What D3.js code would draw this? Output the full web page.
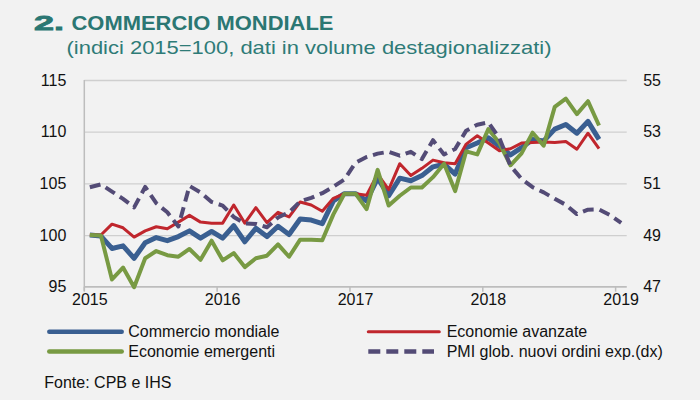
<!DOCTYPE html>
<html>
<head>
<meta charset="utf-8">
<script src="https://cdn.jsdelivr.net/npm/d3@7"></script>
<style>
  html, body { margin: 0; padding: 0; background: #f2f2f2; }
  svg { display: block; font-family: "Liberation Sans", Arial, sans-serif; }
</style>
</head>
<body>
<svg id="chart" width="700" height="400"></svg>
<script>
// ---- DATA ----
const months = [
  "2015-01","2015-02","2015-03","2015-04","2015-05","2015-06","2015-07","2015-08","2015-09","2015-10","2015-11","2015-12",
  "2016-01","2016-02","2016-03","2016-04","2016-05","2016-06","2016-07","2016-08","2016-09","2016-10","2016-11","2016-12",
  "2017-01","2017-02","2017-03","2017-04","2017-05","2017-06","2017-07","2017-08","2017-09","2017-10","2017-11","2017-12",
  "2018-01","2018-02","2018-03","2018-04","2018-05","2018-06","2018-07","2018-08","2018-09","2018-10","2018-11","2018-12",
  "2019-01"
];
const yearTicks = ["2015-01","2016-01","2017-01","2018-01","2019-01"];
const leftTicks = [95, 100, 105, 110, 115];
const rightTicks = [47, 49, 51, 53, 55];

const commercioMondiale = [
  100, 99.9, 98.7, 98.95, 97.75, 99.25, 99.75, 99.45, 99.85, 100.4, 99.7, 100.35,
  99.7, 100.9, 99.35, 100.65, 99.85, 100.85, 100.05, 101.55, 101.45, 101.1, 103.3, 104.0,
  104.0, 103.3, 105.5, 103.8, 105.5, 105.25, 105.75, 106.6, 106.85, 105.9, 108.45, 108.9,
  109.4, 108.6, 107.75, 108.45, 109.25, 109.1, 110.25, 110.7, 109.85, 111.0, 109.25
];
const economieAvanzate = [
  100, 100, 101.05, 100.7, 99.8, 100.4, 100.8, 100.6, 101.25, 101.9, 101.25, 101.15,
  101.15, 102.9, 101.15, 102.65, 101.2, 102.2, 101.75, 103.2, 102.9, 102.3, 103.55, 104.0,
  104.0, 103.85, 105.9, 104.4, 106.9, 105.75, 106.45, 107.25, 107.0, 106.9, 108.8, 109.6,
  108.9, 108.15, 108.35, 108.9, 108.95, 109.0, 108.95, 109.05, 108.3, 109.85, 108.35
];
const economieEmergenti = [
  100, 99.95, 95.7, 96.85, 94.95, 97.75, 98.45, 98.05, 97.9, 98.65, 97.6, 99.45,
  97.55, 98.25, 96.9, 97.75, 98.0, 99.1, 97.9, 99.55, 99.55, 99.5, 102.0, 104.0,
  104.0, 102.5, 106.3, 102.85, 103.8, 104.6, 104.6, 105.6, 106.9, 104.25, 108.1, 107.8,
  110.25, 108.9, 106.75, 107.9, 109.9, 108.65, 112.4, 113.2, 111.7, 112.95, 110.6
];
const pmiNuoviOrdini = [
  50.85, 50.96, 50.68, 50.4, 50.07, 50.86, 50.23, 49.88, 49.33, 50.9, 50.65, 50.28,
  50.14, 49.7, 49.45, 49.43, 49.3, 49.68, 49.88, 50.3, 50.44, 50.62, 50.87, 51.15,
  51.8, 52.02, 52.15, 52.22, 52.07, 52.22, 51.94, 52.67, 52.12, 52.33, 53.04, 53.27,
  53.36, 52.75, 51.68, 51.17, 50.85, 50.65, 50.4, 50.17, 49.81, 49.98, 49.99, 49.77, 49.47
];

const seriesNames = ["Commercio mondiale", "Economie avanzate", "Economie emergenti", "PMI glob. nuovi ordini exp.(dx)"];
const seriesColors = ["#3a5f91", "#c0262d", "#789a43", "#534b76"];

// ---- LAYOUT ----
const svg = d3.select("#chart");
const plotLeft = 84.3, plotRight = 626.7, plotTop = 80, plotBottom = 286.7;

const x = d3.scaleBand().domain(months).range([plotLeft, plotRight]).padding(0);
const yL = d3.scaleLinear().domain([95, 115]).range([plotBottom, plotTop]);
const yR = d3.scaleLinear().domain([47, 55]).range([plotBottom, plotTop]);
const cx = m => x(m) + x.bandwidth() / 2;

svg.append("rect").attr("width", 700).attr("height", 400).attr("fill", "#f2f2f2");

// Title
svg.append("text").attr("x", 34).attr("y", 30)
  .attr("font-size", 21).attr("font-weight", 900).attr("fill", "#2b7773")
  .attr("stroke", "#2b7773").attr("stroke-width", 0.8)
  .attr("textLength", 30).attr("lengthAdjust", "spacingAndGlyphs").text("2.");
svg.append("text").attr("x", 71.5).attr("y", 30)
  .attr("font-size", 21).attr("font-weight", "bold").attr("fill", "#2b7773")
  .attr("textLength", 262).attr("lengthAdjust", "spacingAndGlyphs").text("COMMERCIO MONDIALE");
svg.append("text").attr("x", 66.5).attr("y", 54)
  .attr("font-size", 19).attr("fill", "#2e7b77")
  .attr("textLength", 485).attr("lengthAdjust", "spacingAndGlyphs")
  .text("(indici 2015=100, dati in volume destagionalizzati)");

// Gridlines
const grid = svg.append("g").attr("transform", `translate(${plotLeft},0)`)
  .call(d3.axisLeft(yL).tickValues(leftTicks).tickSize(-(plotRight - plotLeft)).tickFormat(""));
grid.select(".domain").remove();
grid.selectAll(".tick line").attr("stroke", "#cfcfcf").attr("stroke-width", 1.3);

// Left axis labels
const ax = svg.append("g").attr("transform", `translate(${plotLeft},0)`)
  .call(d3.axisLeft(yL).tickValues(leftTicks).tickSize(0).tickPadding(18));
ax.select(".domain").remove();
ax.selectAll("text").attr("font-size", 16).attr("fill", "#111").attr("font-family", "Liberation Sans, Arial, sans-serif");

// Right axis labels
const ar = svg.append("g").attr("transform", `translate(${plotRight},0)`)
  .call(d3.axisRight(yR).tickValues(rightTicks).tickSize(0).tickPadding(16.5));
ar.select(".domain").remove();
ar.selectAll("text").attr("font-size", 16).attr("fill", "#111").attr("font-family", "Liberation Sans, Arial, sans-serif");

// Left axis vertical line
svg.append("line").attr("x1", plotLeft).attr("x2", plotLeft).attr("y1", plotTop).attr("y2", plotBottom + 4)
  .attr("stroke", "#bdbdbd").attr("stroke-width", 1.5);
// X axis line
svg.append("line").attr("x1", plotLeft).attr("x2", plotRight).attr("y1", plotBottom).attr("y2", plotBottom)
  .attr("stroke", "#bdbdbd").attr("stroke-width", 1.5);
// X tick marks at year boundaries
svg.selectAll(".ytick").data(yearTicks).enter().append("line")
  .attr("x1", d => x(d)).attr("x2", d => x(d))
  .attr("y1", plotBottom).attr("y2", plotBottom + 5)
  .attr("stroke", "#bdbdbd").attr("stroke-width", 1.5);

// X labels (centered on January)
const axB = svg.append("g").attr("transform", `translate(0,${plotBottom})`)
  .call(d3.axisBottom(x).tickValues(yearTicks).tickSize(0).tickPadding(7).tickFormat(d => d.slice(0, 4)));
axB.select(".domain").remove();
axB.selectAll("text").attr("font-size", 16).attr("fill", "#111").attr("font-family", "Liberation Sans, Arial, sans-serif");

// Lines
const lineL = d3.line().x((d, i) => cx(months[i])).y(d => yL(d));
const lineR = d3.line().x((d, i) => cx(months[i])).y(d => yR(d));

svg.append("path").datum(commercioMondiale).attr("d", lineL)
  .attr("fill", "none").attr("stroke", seriesColors[0]).attr("stroke-width", 5).attr("stroke-linejoin", "round");
svg.append("path").datum(economieAvanzate).attr("d", lineL)
  .attr("fill", "none").attr("stroke", seriesColors[1]).attr("stroke-width", 3).attr("stroke-linejoin", "round");
svg.append("path").datum(economieEmergenti).attr("d", lineL)
  .attr("fill", "none").attr("stroke", seriesColors[2]).attr("stroke-width", 4).attr("stroke-linejoin", "round");
svg.append("path").datum(pmiNuoviOrdini).attr("d", lineR)
  .attr("fill", "none").attr("stroke", seriesColors[3]).attr("stroke-width", 4)
  .attr("stroke-dasharray", "11,6").attr("stroke-linejoin", "round");

// Legend
const legend = [
  { name: seriesNames[0], color: seriesColors[0], w: 4.5, dash: null, x1: 49.3, x2: 121.7, tx: 128.3, y: 331.7 },
  { name: seriesNames[1], color: seriesColors[1], w: 3, dash: null, x1: 368.3, x2: 439.3, tx: 446.7, y: 331.7 },
  { name: seriesNames[2], color: seriesColors[2], w: 4.5, dash: null, x1: 49.3, x2: 121.7, tx: 128.3, y: 351.5 },
  { name: seriesNames[3], color: seriesColors[3], w: 4.5, dash: "12,6", x1: 368.3, x2: 434, tx: 446.7, y: 351.5 }
];
const lg = svg.append("g").selectAll("g").data(legend).enter().append("g");
lg.append("line").attr("x1", d => d.x1).attr("x2", d => d.x2).attr("y1", d => d.y).attr("y2", d => d.y)
  .attr("stroke", d => d.color).attr("stroke-width", d => d.w)
  .attr("stroke-dasharray", d => d.dash).attr("stroke-linecap", d => d.dash ? "butt" : "round");
lg.append("text").attr("x", d => d.tx).attr("y", d => d.y + 5.5)
  .attr("font-size", 16).attr("fill", "#111").text(d => d.name);

svg.append("text").attr("x", 44.3).attr("y", 387.7).attr("font-size", 16).attr("fill", "#111")
  .text("Fonte: CPB e IHS");
</script>
</body>
</html>
